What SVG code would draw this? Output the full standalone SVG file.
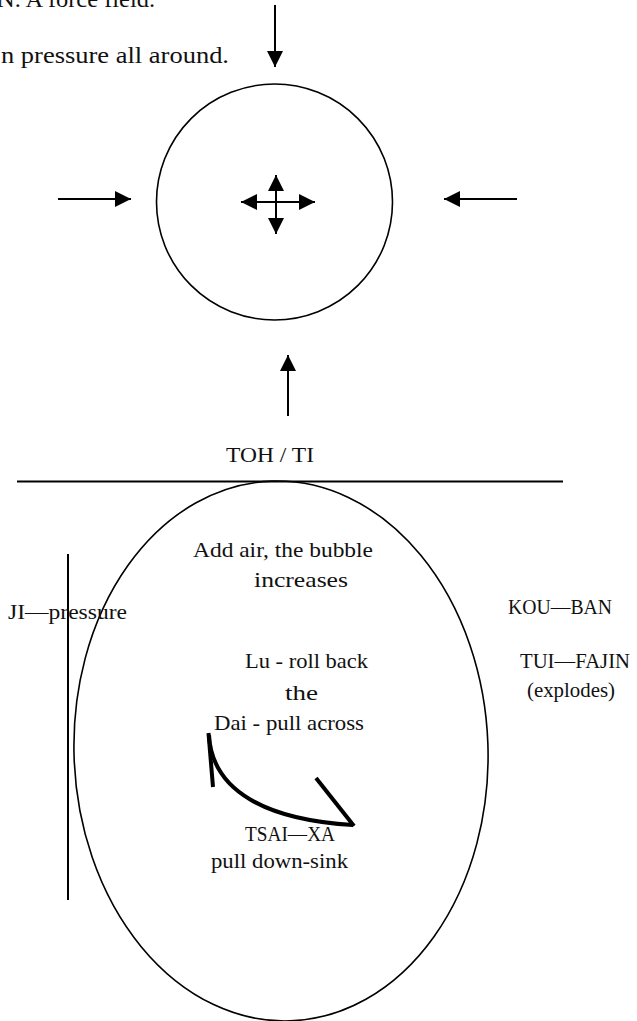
<svg xmlns="http://www.w3.org/2000/svg" width="637" height="1021" viewBox="0 0 637 1021" font-family="'Liberation Serif', 'Times New Roman', 'DejaVu Serif', serif">
<style>
text{font-family:'Liberation Serif','Times New Roman','DejaVu Serif',serif;fill:#111;font-size:21px}
.big{font-size:24px}
.ln{stroke:#000;stroke-width:2;fill:none}
.shape{stroke:#000;stroke-width:1.6;fill:none}
.thick{stroke:#000;stroke-width:4;fill:none;stroke-linecap:butt}
</style>
<defs>
<marker id="ah" viewBox="0 0 16 16" refX="16" refY="8" markerWidth="16" markerHeight="16" markerUnits="userSpaceOnUse" orient="auto">
<path d="M0,0 L16,8 L0,16 Z" fill="#000"/>
</marker>
</defs>
<g id="notes">
<text class="big" x="155" y="7" text-anchor="end" textLength="158" lengthAdjust="spacingAndGlyphs">N. A force field.</text>
<text class="big" x="1" y="63" textLength="228" lengthAdjust="spacingAndGlyphs">n pressure all around.</text>
</g>
<g id="force-circle">
<circle cx="274.5" cy="202" r="118" class="shape"/>
</g>
<g id="connectors">
<line x1="275" y1="5" x2="275" y2="67" class="ln" marker-end="url(#ah)"/>
<line x1="58" y1="199" x2="131" y2="199" class="ln" marker-end="url(#ah)"/>
<line x1="517" y1="199" x2="444" y2="199" class="ln" marker-end="url(#ah)"/>
<line x1="288" y1="416" x2="288" y2="355" class="ln" marker-end="url(#ah)"/>
<line x1="278" y1="202" x2="241" y2="202" class="ln" stroke-width="2.5" marker-end="url(#ah)"/>
<line x1="274" y1="202" x2="315" y2="202" class="ln" stroke-width="2.5" marker-end="url(#ah)"/>
<line x1="276" y1="205" x2="276" y2="175" class="ln" stroke-width="2.5" marker-end="url(#ah)"/>
<line x1="276" y1="199" x2="276" y2="234" class="ln" stroke-width="2.5" marker-end="url(#ah)"/>
<line x1="17" y1="481.5" x2="563" y2="481.5" class="ln"/>
<line x1="68" y1="554" x2="68" y2="900" class="ln"/>
<path d="M209,735 C212,792 268,820 353,825" class="thick"/>
<line x1="208.5" y1="733" x2="213" y2="787" class="thick"/>
<line x1="316" y1="778" x2="354" y2="826" class="thick"/>
</g>
<g id="label-tohti">
<text x="270" y="462" text-anchor="middle" textLength="88" lengthAdjust="spacingAndGlyphs">TOH / TI</text>
</g>
<g id="bubble">
<ellipse cx="281" cy="751" rx="207" ry="270" transform="rotate(-2 281 751)" class="shape"/>
<text x="193" y="557" textLength="180" lengthAdjust="spacingAndGlyphs">Add air, the bubble</text>
<text x="254" y="587" textLength="94" lengthAdjust="spacingAndGlyphs">increases</text>
<text x="245" y="668" textLength="123" lengthAdjust="spacingAndGlyphs">Lu - roll back</text>
<text x="285" y="700" textLength="33" lengthAdjust="spacingAndGlyphs">the</text>
<text x="214" y="730" textLength="150" lengthAdjust="spacingAndGlyphs">Dai - pull across</text>
<text x="245" y="841" textLength="90" lengthAdjust="spacingAndGlyphs">TSAI—XA</text>
<text x="211" y="868" textLength="137" lengthAdjust="spacingAndGlyphs">pull down-sink</text>
</g>
<g id="label-ji">
<text x="8" y="619" textLength="119" lengthAdjust="spacingAndGlyphs">JI—pressure</text>
</g>
<g id="label-kou">
<text x="508" y="614" textLength="104" lengthAdjust="spacingAndGlyphs">KOU—BAN</text>
</g>
<g id="label-tui">
<text x="520" y="668" textLength="110" lengthAdjust="spacingAndGlyphs">TUI—FAJIN</text>
<text x="527" y="697" textLength="88" lengthAdjust="spacingAndGlyphs">(explodes)</text>
</g>
</svg>
